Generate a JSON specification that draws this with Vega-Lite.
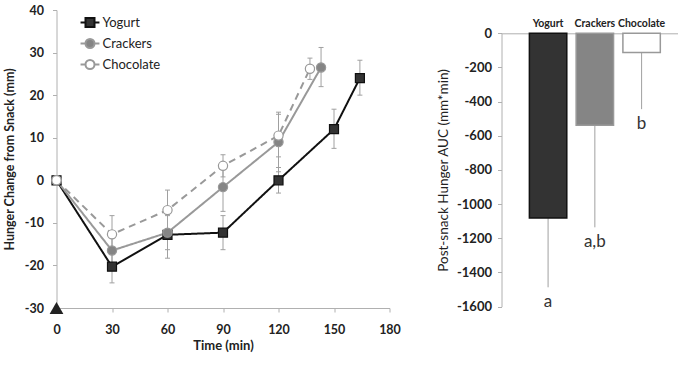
{
  "$schema": "https://vega.github.io/schema/vega-lite/v6.json",
  "background": "white",
  "padding": {"left": 2.5, "top": 4, "right": 0, "bottom": 0},
  "spacing": 35,
  "config": {
    "font": "Lato",
    "view": {"stroke": null},
    "axis": {"domainColor": "#b0b0b0", "tickColor": "#b0b0b0", "grid": false, "labelColor": "#222222", "titleColor": "#222222", "labelOverlap": false},
    "axisY": {"labelOverlap": false}
  },
  "datasets": {
    "hunger": [
      {"series": "Yogurt", "time": 0, "value": 0},
      {"series": "Yogurt", "time": 30, "value": -20.3, "lo": -24.1, "hi": -16.5},
      {"series": "Yogurt", "time": 60, "value": -12.8, "lo": -18.3, "hi": -7.3},
      {"series": "Yogurt", "time": 90, "value": -12.3, "lo": -16.3, "hi": -8.3},
      {"series": "Yogurt", "time": 120, "value": 0, "lo": -3, "hi": 3},
      {"series": "Yogurt", "time": 150, "value": 12, "lo": 7.5, "hi": 16.7},
      {"series": "Yogurt", "time": 164, "value": 24, "lo": 20, "hi": 28.2},
      {"series": "Crackers", "time": 0, "value": 0},
      {"series": "Crackers", "time": 30, "value": -16.5, "lo": -20.5, "hi": -12.5},
      {"series": "Crackers", "time": 60, "value": -12.3, "lo": -16.3, "hi": -8.3},
      {"series": "Crackers", "time": 90, "value": -1.6, "lo": -7.3, "hi": 4.1},
      {"series": "Crackers", "time": 120, "value": 9, "lo": 2, "hi": 16},
      {"series": "Crackers", "time": 143, "value": 26.5, "lo": 22, "hi": 31.2},
      {"series": "Chocolate", "time": 0, "value": 0},
      {"series": "Chocolate", "time": 30, "value": -12.7, "lo": -17.1, "hi": -8.3},
      {"series": "Chocolate", "time": 60, "value": -7, "lo": -11.7, "hi": -2.3},
      {"series": "Chocolate", "time": 90, "value": 3.4, "lo": 0.8, "hi": 6},
      {"series": "Chocolate", "time": 120, "value": 10.5, "lo": 5.5, "hi": 15.5},
      {"series": "Chocolate", "time": 137, "value": 26.2, "lo": 23.7, "hi": 28.7}
    ],
    "snack": [{"time": 0, "value": -30}],
    "auc": [
      {"snack": "Yogurt", "auc": -1082, "lower": -1487, "letter": "a"},
      {"snack": "Crackers", "auc": -538, "lower": -1136, "letter": "a,b"},
      {"snack": "Chocolate", "auc": -113, "lower": -444, "letter": "b"}
    ]
  },
  "hconcat": [
    {
      "width": 333,
      "height": 298,
      "data": {"name": "hunger"},
      "layer": [
        {
          "transform": [{"filter": "false"}],
          "mark": {"type": "point", "filled": true, "strokeWidth": 2, "opacity": 1},
          "encoding": {
            "x": {"field": "time", "type": "quantitative",
              "scale": {"domain": [0, 180], "nice": false, "zero": false},
              "axis": {"values": [0, 30, 60, 90, 120, 150, 180], "labelExpr": "'' + datum.value", "title": "Time (min)", "titleFontSize": 13, "titleFontWeight": "bold", "labelFontSize": 12.5, "labelFontWeight": "bold", "tickSize": 4, "labelPadding": 11, "titlePadding": 4, "labelFlush": false}},
            "y": {"field": "value", "type": "quantitative",
              "scale": {"domain": [-30, 40], "nice": false, "zero": false},
              "axis": {"values": [-30, -20, -10, 0, 10, 20, 30, 40], "labelExpr": "'' + datum.value", "title": "Hunger Change from Snack (mm)", "titleFontSize": 12.5, "titleFontWeight": "bold", "labelFontSize": 12.5, "labelFontWeight": "bold", "tickSize": 4, "labelPadding": 9, "titlePadding": 8}},
            "shape": {"field": "series", "type": "nominal",
              "scale": {"domain": ["Yogurt", "Crackers", "Chocolate"],
                "range": ["M-2.1,0H-1M1,0H2.1M-1,-1H1V1H-1Z", "M-2.1,0H-1M1,0H2.1M-1,0A1,1 0 1,0 1,0A1,1 0 1,0 -1,0Z", "M-2.1,0H-1M1,0H2.1M-1,0A1,1 0 1,0 1,0A1,1 0 1,0 -1,0Z"]},
              "legend": {"title": null, "orient": "none", "legendX": 27, "legendY": 6, "padding": 0, "symbolSize": 81, "symbolStrokeWidth": 2, "symbolOpacity": 1, "labelFontSize": 13, "labelColor": "#222222", "labelOffset": 6, "rowPadding": 4}},
            "fill": {"field": "series", "type": "nominal",
              "scale": {"domain": ["Yogurt", "Crackers", "Chocolate"], "range": ["#333333", "#858585", "#ffffff"]}},
            "stroke": {"field": "series", "type": "nominal",
              "scale": {"domain": ["Yogurt", "Crackers", "Chocolate"], "range": ["#111111", "#999999", "#999999"]}}
          }
        },
        {
          "mark": {"type": "rule", "color": "#a0a0a0", "strokeWidth": 1},
          "encoding": {
            "x": {"field": "time", "type": "quantitative"},
            "y": {"field": "lo", "type": "quantitative"},
            "y2": {"field": "hi"}
          }
        },
        {
          "mark": {"type": "tick", "orient": "horizontal", "size": 5, "thickness": 1, "color": "#a0a0a0", "opacity": 1},
          "encoding": {
            "x": {"field": "time", "type": "quantitative"},
            "y": {"field": "lo", "type": "quantitative"}
          }
        },
        {
          "mark": {"type": "tick", "orient": "horizontal", "size": 5, "thickness": 1, "color": "#a0a0a0", "opacity": 1},
          "encoding": {
            "x": {"field": "time", "type": "quantitative"},
            "y": {"field": "hi", "type": "quantitative"}
          }
        },
        {
          "mark": {"type": "line", "strokeWidth": 2},
          "encoding": {
            "x": {"field": "time", "type": "quantitative"},
            "y": {"field": "value", "type": "quantitative"},
            "stroke": {"field": "series", "type": "nominal"},
            "strokeDash": {"condition": {"test": "datum.series === 'Chocolate'", "value": [7, 5]}, "value": [1, 0]}
          }
        },
        {
          "transform": [{"filter": "datum.series === 'Yogurt'"}],
          "mark": {"type": "point", "shape": "square", "filled": true, "size": 81, "strokeWidth": 1.2, "opacity": 1},
          "encoding": {
            "x": {"field": "time", "type": "quantitative"},
            "y": {"field": "value", "type": "quantitative"},
            "fill": {"field": "series", "type": "nominal"},
            "stroke": {"field": "series", "type": "nominal"}
          }
        },
        {
          "transform": [{"filter": "datum.series !== 'Yogurt'"}],
          "mark": {"type": "point", "shape": "circle", "filled": true, "size": 85, "strokeWidth": 1.2, "opacity": 1},
          "encoding": {
            "x": {"field": "time", "type": "quantitative"},
            "y": {"field": "value", "type": "quantitative"},
            "fill": {"field": "series", "type": "nominal"},
            "stroke": {"field": "series", "type": "nominal"}
          }
        },
        {
          "data": {"name": "snack"},
          "mark": {"type": "point", "shape": "triangle-up", "filled": true, "size": 190, "color": "#222222", "opacity": 1},
          "encoding": {
            "x": {"field": "time", "type": "quantitative"},
            "y": {"field": "value", "type": "quantitative"}
          }
        }
      ]
    },
    {
      "width": 179,
      "height": 296.6,
      "data": {"name": "auc"},
      "layer": [
        {
          "mark": {"type": "rule", "color": "#a0a0a0", "strokeWidth": 1},
          "encoding": {
            "x": {"field": "snack", "type": "nominal", "sort": null,
              "scale": {"paddingInner": 0.2, "paddingOuter": 0.514, "align": 0.58},
              "axis": {"orient": "top", "offset": -23.3, "title": null, "labelAngle": 0, "tickSize": 0, "labelPadding": 5, "labelFontSize": 10.5, "labelFontWeight": "bold"}},
            "y": {"field": "auc", "type": "quantitative",
              "scale": {"domain": [-1600, 0], "nice": false, "rangeMax": 23.3},
              "axis": {"values": [-1600, -1400, -1200, -1000, -800, -600, -400, -200, 0], "tickCount": 9, "labelExpr": "'' + datum.value", "labelOverlap": false, "labelSeparation": 0, "title": "Post-snack Hunger AUC (mm*min)", "titleFontSize": 13.5, "titleFontWeight": "normal", "labelFontSize": 13, "labelFontWeight": "bold", "tickSize": 4, "labelPadding": 6, "titlePadding": 6}},
            "y2": {"field": "lower"}
          }
        },
        {
          "mark": {"type": "bar", "strokeWidth": 1.5},
          "encoding": {
            "x": {"field": "snack", "type": "nominal", "sort": null},
            "y": {"field": "auc", "type": "quantitative"},
            "fill": {"field": "snack", "type": "nominal", "scale": {"domain": ["Yogurt", "Crackers", "Chocolate"], "range": ["#262626", "#9c9c9c", "#f0f0f0"]}, "legend": null},
            "stroke": {"field": "snack", "type": "nominal", "scale": {"domain": ["Yogurt", "Crackers", "Chocolate"], "range": ["#5a5a5a", "#555555", "#8a8a8a"]}, "legend": null}
          }
        },
        {
          "mark": {"type": "text", "baseline": "middle", "dy": 15, "fontSize": 17, "color": "#333333"},
          "encoding": {
            "x": {"field": "snack", "type": "nominal", "sort": null},
            "y": {"field": "lower", "type": "quantitative"},
            "text": {"field": "letter"}
          }
        }
      ]
    }
  ]
}
